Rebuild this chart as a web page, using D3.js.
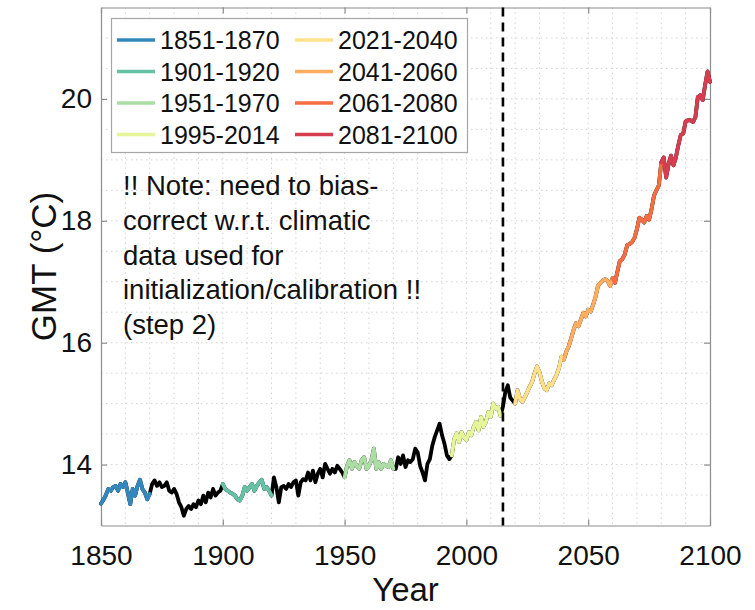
<!DOCTYPE html>
<html>
<head>
<meta charset="utf-8">
<script src="https://cdn.jsdelivr.net/npm/d3@7"></script>
<style>
  body { margin: 0; background: #fff; }
  svg text { font-family: "Liberation Sans", Arial, Helvetica, sans-serif; fill: #111; }
</style>
</head>
<body>
<svg id="chart" width="755" height="610"></svg>
<script>
// Annual global mean temperature (°C), observed then projected
const firstYear = 1850;
const gmtObserved = [
  13.36, 13.42, 13.50, 13.60, 13.57, 13.63, 13.65, 13.57, 13.68, 13.63, // 1850s
  13.71, 13.54, 13.35, 13.60, 13.49, 13.65, 13.75, 13.60, 13.54, 13.43, // 1860s
  13.52, 13.68, 13.74, 13.65, 13.71, 13.63, 13.65, 13.71, 13.57, 13.54, // 1870s
  13.60, 13.52, 13.38, 13.30, 13.16, 13.27, 13.32, 13.27, 13.35, 13.30, // 1880s
  13.41, 13.35, 13.49, 13.38, 13.54, 13.46, 13.60, 13.49, 13.54, 13.57, // 1890s
  13.68, 13.60, 13.57, 13.54, 13.52, 13.49, 13.43, 13.41, 13.49, 13.63, // 1900s
  13.57, 13.63, 13.68, 13.57, 13.65, 13.71, 13.75, 13.60, 13.63, 13.57, // 1910s
  13.49, 13.79, 13.63, 13.38, 13.63, 13.65, 13.60, 13.68, 13.63, 13.71, // 1920s
  13.74, 13.49, 13.71, 13.76, 13.74, 13.87, 13.74, 13.90, 13.71, 13.85, // 1930s
  13.93, 13.79, 14.01, 13.93, 13.85, 13.93, 13.87, 13.98, 13.93, 13.87, // 1940s
  13.79, 13.98, 14.07, 13.93, 14.04, 13.98, 13.93, 14.07, 14.12, 13.93, // 1950s
  13.98, 14.07, 14.26, 13.93, 14.04, 13.93, 14.01, 13.98, 13.96, 14.07, // 1960s
  13.93, 13.93, 14.12, 14.01, 14.15, 13.96, 14.07, 14.04, 14.09, 14.26, // 1970s
  14.20, 13.98, 13.87, 13.74, 14.01, 14.09, 14.31, 14.45, 14.56, 14.67, // 1980s
  14.48, 14.34, 14.15, 14.09, 14.15, 14.42, 14.51, 14.37, 14.53, 14.45, // 1990s
  14.40, 14.53, 14.48, 14.62, 14.70, 14.56, 14.78, 14.62, 14.70, 14.86, // 2000s
  14.78, 15.00, 14.92, 14.95, 14.80, 14.95, 15.20, 15.30, 15.10, 15.05, // 2010s
  15.00                                                                  // 2020
];
const gmtProjected = [
         15.22, 15.08, 15.03, 15.11, 15.19, 15.28, 15.36, 15.50, 15.61, // 2021-2029
  15.52, 15.36, 15.25, 15.22, 15.33, 15.30, 15.39, 15.47, 15.58, 15.77, // 2030s
  15.72, 15.85, 15.94, 16.07, 16.21, 16.32, 16.27, 16.38, 16.49, 16.43, // 2040s
  16.54, 16.51, 16.62, 16.75, 16.93, 16.98, 17.02, 17.04, 17.01, 16.93, // 2050s
  17.06, 16.98, 17.17, 17.34, 17.37, 17.45, 17.60, 17.62, 17.65, 17.72, // 2060s
  17.86, 18.05, 18.02, 17.97, 18.08, 18.02, 18.19, 18.41, 18.50, 18.58, // 2070s
  18.96, 19.04, 18.71, 18.93, 19.07, 18.91, 19.04, 19.24, 19.41, 19.43, // 2080s
  19.63, 19.65, 19.65, 19.62, 19.70, 20.03, 20.06, 19.98, 20.23, 20.45, // 2090s
  20.28                                                                  // 2100
];

// Highlighted 20-year periods
const periodLabels = ["1851-1870", "1901-1920", "1951-1970", "1995-2014",
                      "2021-2040", "2041-2060", "2061-2080", "2081-2100"];
const periodStart  = [1851, 1901, 1951, 1995, 2021, 2041, 2061, 2081];
const periodEnd    = [1870, 1920, 1970, 2014, 2040, 2060, 2080, 2100];
const periodColors = ["#3288bd", "#66c2a5", "#abdda4", "#e6f598",
                      "#fee08b", "#fdae61", "#f46d43", "#d53e4f"];

const xTickValues = [1850, 1900, 1950, 2000, 2050, 2100];
const yTickValues = [14, 16, 18, 20];
const referenceYear = 2015;
const noteLines = [
  "!! Note: need to bias-",
  "correct w.r.t. climatic",
  "data used for",
  "initialization/calibration !!",
  "(step 2)"
];

const series = gmtObserved.concat(gmtProjected).map((v, i) => ({ year: firstYear + i, value: v }));

const svg = d3.select("#chart");
const plot = { left: 101, right: 710, top: 7.5, bottom: 525.5 };

const x = d3.scaleLinear().domain([1850, 2100]).range([plot.left, plot.right]);
const y = d3.scaleLinear().domain([13, 21.5]).range([plot.bottom, plot.top]);

// dotted grid: every decade and every half degree
const grid = svg.append("g").attr("stroke", "#d4d4d4").attr("stroke-width", 1)
  .attr("stroke-dasharray", "1.5,3.5");
grid.selectAll("line.gx").data(d3.range(1860, 2100, 10)).join("line")
  .attr("x1", d => x(d)).attr("x2", d => x(d))
  .attr("y1", plot.top).attr("y2", plot.bottom);
grid.selectAll("line.gy").data(d3.range(13.5, 21.5, 0.5)).join("line")
  .attr("x1", plot.left).attr("x2", plot.right)
  .attr("y1", d => y(d)).attr("y2", d => y(d));

// axes (ticks pointing inward, box around the plot)
const axisColor = "#8c8c8c";
const tickLen = 6;
const bottomAxis = svg.append("g").attr("transform", `translate(0,${plot.bottom})`)
  .call(d3.axisBottom(x).tickValues(xTickValues).tickFormat(d3.format("d"))
    .tickSizeInner(-tickLen).tickSizeOuter(0).tickPadding(20));
const leftAxis = svg.append("g").attr("transform", `translate(${plot.left},0)`)
  .call(d3.axisLeft(y).tickValues(yTickValues).tickFormat(d3.format("d"))
    .tickSizeInner(-tickLen).tickSizeOuter(0).tickPadding(9));
const topAxis = svg.append("g").attr("transform", `translate(0,${plot.top})`)
  .call(d3.axisTop(x).tickValues(xTickValues).tickFormat("")
    .tickSizeInner(-tickLen).tickSizeOuter(0));
const rightAxis = svg.append("g").attr("transform", `translate(${plot.right},0)`)
  .call(d3.axisRight(y).tickValues(yTickValues).tickFormat("")
    .tickSizeInner(-tickLen).tickSizeOuter(0));
[bottomAxis, leftAxis, topAxis, rightAxis].forEach(g => {
  g.select(".domain").attr("stroke", axisColor).attr("stroke-width", 1.2);
  g.selectAll(".tick line").attr("stroke", axisColor).attr("stroke-width", 1.2);
  g.selectAll(".tick text").attr("font-size", 28).attr("fill", "#111")
    .style("font-family", "'Liberation Sans', Arial, sans-serif");
});

// axis titles
svg.append("text").attr("x", (plot.left + plot.right) / 2).attr("y", 601)
  .attr("text-anchor", "middle").attr("font-size", 33).text("Year");
svg.append("text")
  .attr("transform", `translate(56,${(plot.top + plot.bottom) / 2}) rotate(-90)`)
  .attr("text-anchor", "middle").attr("font-size", 35).text("GMT (°C)");

// temperature curve: black throughout, coloured over the highlighted periods
const line = d3.line().x(d => x(d.year)).y(d => y(d.value));
const curves = svg.append("g").attr("fill", "none").attr("stroke-width", 3.8)
  .attr("stroke-linejoin", "round").attr("stroke-linecap", "round");
curves.append("path").datum(series).attr("stroke", "#000").attr("d", line);
periodLabels.forEach((label, i) => {
  const seg = series.filter(d => d.year >= periodStart[i] - 1 && d.year <= periodEnd[i]);
  curves.append("path").datum(seg).attr("stroke", periodColors[i]).attr("d", line);
});

// reference year marker
svg.append("line")
  .attr("x1", x(referenceYear)).attr("x2", x(referenceYear))
  .attr("y1", plot.top).attr("y2", plot.bottom)
  .attr("stroke", "#000").attr("stroke-width", 2.6).attr("stroke-dasharray", "9,6");

// legend
const legend = svg.append("g");
legend.append("rect").attr("x", 111.5).attr("y", 18.5).attr("width", 356).attr("height", 134)
  .attr("fill", "#fff").attr("stroke", "#a6a6a6").attr("stroke-width", 1.2);
periodLabels.forEach((label, i) => {
  const col = Math.floor(i / 4), row = i % 4;
  const lx = 117 + col * 178, ly = 40 + row * 31.5;
  legend.append("line").attr("x1", lx).attr("x2", lx + 38).attr("y1", ly).attr("y2", ly)
    .attr("stroke", periodColors[i]).attr("stroke-width", 3.6);
  legend.append("text").attr("x", lx + 43).attr("y", ly + 9)
    .attr("font-size", 25).text(label);
});

// annotation
const note = svg.append("text").attr("font-size", 27.5);
noteLines.forEach((t, i) => {
  note.append("tspan").attr("x", 123).attr("y", 195 + i * 34.8).text(t);
});
</script>
</body>
</html>
